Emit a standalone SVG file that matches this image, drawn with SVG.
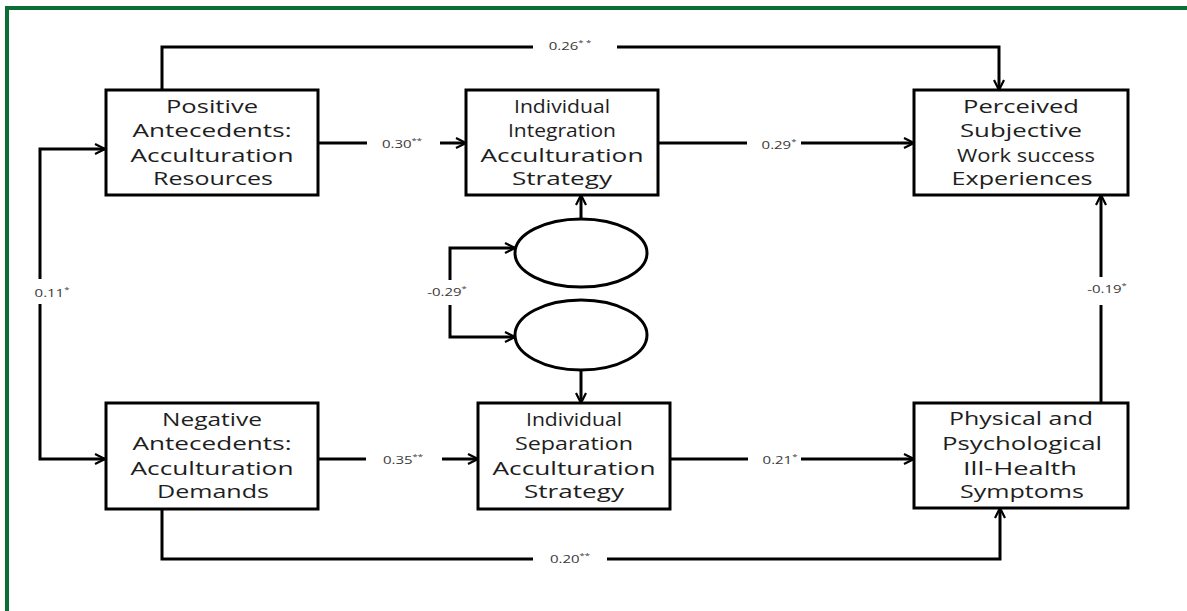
<svg xmlns="http://www.w3.org/2000/svg" width="1187" height="611" viewBox="0 0 1187 611">
  <style>
    .box { fill: #fff; stroke: #000; stroke-width: 3; }
    .ell { fill: #fff; stroke: #000; stroke-width: 3; }
    .ln { fill: none; stroke: #000; stroke-width: 3; }
    .arr { fill: none; stroke: #000; stroke-width: 3; marker-end: url(#head); }
    .t { font-family: "Open Sans", "Liberation Sans", sans-serif; font-size: 18px; fill: #1e1e1e; text-anchor: middle; }
    .lbl { font-family: "Open Sans", "Liberation Sans", sans-serif; font-size: 11px; fill: #3a3a3a; text-anchor: middle; }
    .sup { font-size: 7px; }
  </style>
  <defs>
    <marker id="head" viewBox="0 0 12 12" refX="11" refY="6" markerWidth="12" markerHeight="12" markerUnits="userSpaceOnUse" orient="auto">
      <path d="M1,1 L11,6 L1,11" fill="none" stroke="#000" stroke-width="2.2"/>
    </marker>
  </defs>

  <rect width="1187" height="611" fill="#fff"/>
  <!-- frame -->
  <path d="M7,611 V8 H1187" fill="none" stroke="#0b6e35" stroke-width="4"/>

  <g id="connectors">
    <!-- top path 0.26 -->
    <path class="ln" d="M162,90 V47 H533"/>
    <path class="arr" d="M617,47 H999 V90"/>
    <g transform="translate(570,50) scale(1.36,1)"><text class="lbl" x="0" y="0">0.26<tspan class="sup" dy="-5">* *</tspan></text></g>
    <!-- bottom path 0.20 -->
    <path class="ln" d="M162,509 V559 H533"/>
    <path class="arr" d="M607,559 H1000 V508"/>
    <g transform="translate(570,563) scale(1.36,1)"><text class="lbl" x="0" y="0">0.20<tspan class="sup" dy="-5">**</tspan></text></g>
    <!-- left correlation 0.11 -->
    <path class="arr" d="M40,279 V149 H105"/>
    <path class="arr" d="M40,304 V459 H105"/>
    <g transform="translate(52,297) scale(1.36,1)"><text class="lbl" x="0" y="0">0.11<tspan class="sup" dy="-5">*</tspan></text></g>
    <!-- positive to integration -->
    <path class="ln" d="M318,143 H367"/>
    <path class="arr" d="M440,143 H466"/>
    <g transform="translate(402,148) scale(1.36,1)"><text class="lbl" x="0" y="0">0.30<tspan class="sup" dy="-5">**</tspan></text></g>
    <!-- integration to perceived -->
    <path class="ln" d="M658,143 H747"/>
    <path class="arr" d="M801,143 H914"/>
    <g transform="translate(779,149) scale(1.36,1)"><text class="lbl" x="0" y="0">0.29<tspan class="sup" dy="-5">*</tspan></text></g>
    <!-- negative to separation -->
    <path class="ln" d="M318,459 H366"/>
    <path class="arr" d="M442,459 H478"/>
    <g transform="translate(403,464) scale(1.36,1)"><text class="lbl" x="0" y="0">0.35<tspan class="sup" dy="-5">**</tspan></text></g>
    <!-- separation to physical -->
    <path class="ln" d="M670,459 H748"/>
    <path class="arr" d="M801,459 H914"/>
    <g transform="translate(780,464) scale(1.36,1)"><text class="lbl" x="0" y="0">0.21<tspan class="sup" dy="-5">*</tspan></text></g>
    <!-- physical to perceived -->
    <path class="ln" d="M1101,403 V305"/>
    <path class="arr" d="M1101,277 V195"/>
    <g transform="translate(1107,293) scale(1.36,1)"><text class="lbl" x="0" y="0">-0.19<tspan class="sup" dy="-5">*</tspan></text></g>
    <!-- residual correlation -->
    <path class="arr" d="M450,280 V248 H515"/>
    <path class="arr" d="M450,305 V337 H515"/>
    <g transform="translate(447,296) scale(1.36,1)"><text class="lbl" x="0" y="0">-0.29<tspan class="sup" dy="-5">*</tspan></text></g>
    <!-- residuals to strategies -->
    <path class="arr" d="M581,219 V195"/>
    <path class="arr" d="M581,370 V403"/>
  </g>

  <g id="positive">
    <rect class="box" x="106" y="90" width="212" height="105"/>
    <text class="t" x="212" y="113" textLength="92" lengthAdjust="spacingAndGlyphs">Positive</text>
    <text class="t" x="212" y="137" textLength="159" lengthAdjust="spacingAndGlyphs">Antecedents:</text>
    <text class="t" x="212" y="162" textLength="163" lengthAdjust="spacingAndGlyphs">Acculturation</text>
    <text class="t" x="213" y="185" textLength="120" lengthAdjust="spacingAndGlyphs">Resources</text>
  </g>

  <g id="integration">
    <rect class="box" x="466" y="90" width="192" height="105"/>
    <text class="t" x="562" y="113" textLength="96" lengthAdjust="spacingAndGlyphs">Individual</text>
    <text class="t" x="562" y="137" textLength="108" lengthAdjust="spacingAndGlyphs">Integration</text>
    <text class="t" x="562" y="162" textLength="163" lengthAdjust="spacingAndGlyphs">Acculturation</text>
    <text class="t" x="562" y="185" textLength="100" lengthAdjust="spacingAndGlyphs">Strategy</text>
  </g>

  <g id="perceived">
    <rect class="box" x="914" y="90" width="214" height="105"/>
    <text class="t" x="1021" y="113" textLength="116" lengthAdjust="spacingAndGlyphs">Perceived</text>
    <text class="t" x="1021" y="137" textLength="122" lengthAdjust="spacingAndGlyphs">Subjective</text>
    <text class="t" x="1026" y="162" textLength="138" lengthAdjust="spacingAndGlyphs">Work success</text>
    <text class="t" x="1022" y="185" textLength="141" lengthAdjust="spacingAndGlyphs">Experiences</text>
  </g>

  <g id="negative">
    <rect class="box" x="106" y="403" width="212" height="106"/>
    <text class="t" x="212" y="426" textLength="100" lengthAdjust="spacingAndGlyphs">Negative</text>
    <text class="t" x="212" y="450" textLength="159" lengthAdjust="spacingAndGlyphs">Antecedents:</text>
    <text class="t" x="212" y="475" textLength="163" lengthAdjust="spacingAndGlyphs">Acculturation</text>
    <text class="t" x="213" y="498" textLength="112" lengthAdjust="spacingAndGlyphs">Demands</text>
  </g>

  <g id="separation">
    <rect class="box" x="478" y="403" width="192" height="106"/>
    <text class="t" x="574" y="426" textLength="96" lengthAdjust="spacingAndGlyphs">Individual</text>
    <text class="t" x="574" y="450" textLength="118" lengthAdjust="spacingAndGlyphs">Separation</text>
    <text class="t" x="574" y="475" textLength="163" lengthAdjust="spacingAndGlyphs">Acculturation</text>
    <text class="t" x="574" y="498" textLength="100" lengthAdjust="spacingAndGlyphs">Strategy</text>
  </g>

  <g id="physical">
    <rect class="box" x="914" y="403" width="214" height="105"/>
    <text class="t" x="1021" y="425" textLength="144" lengthAdjust="spacingAndGlyphs">Physical and</text>
    <text class="t" x="1022" y="450" textLength="160" lengthAdjust="spacingAndGlyphs">Psychological</text>
    <text class="t" x="1020" y="475" textLength="114" lengthAdjust="spacingAndGlyphs">Ill-Health</text>
    <text class="t" x="1022" y="498" textLength="124" lengthAdjust="spacingAndGlyphs">Symptoms</text>
  </g>

  <g id="residual-integration">
    <ellipse class="ell" cx="581" cy="253" rx="66" ry="34"/>
  </g>
  <g id="residual-separation">
    <ellipse class="ell" cx="581" cy="335" rx="66" ry="35"/>
  </g>
</svg>
